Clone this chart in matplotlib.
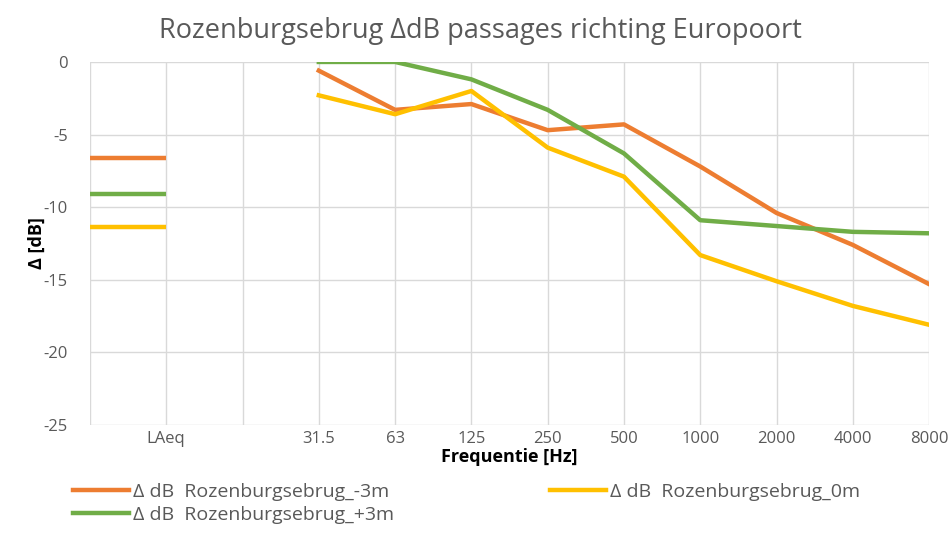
import numpy as np
import matplotlib
matplotlib.use('Agg')
import matplotlib.pyplot as plt

# categorieen op de x-as (eerste en derde plek zijn leeg)
categories = ['', 'LAeq', '', '31.5', '63', '125', '250', '500', '1000', '2000', '4000', '8000']
freqs = ['31.5', '63', '125', '250', '500', '1000', '2000', '4000', '8000']

# LAeq waarden (korte horizontale streep)
laeq_min3 = -6.6
laeq_0 = -11.4
laeq_plus3 = -9.1

# spectrum waarden per frequentieband
spec_min3 = [-0.6, -3.3, -2.9, -4.7, -4.3, -7.2, -10.4, -12.6, -15.3]
spec_0 = [-2.3, -3.6, -2.0, -5.9, -7.9, -13.3, -15.1, -16.8, -18.1]
spec_plus3 = [0.0, 0.0, -1.2, -3.3, -6.3, -10.9, -11.3, -11.7, -11.8]

labels = ['\u0394 dB  Rozenburgsebrug_-3m',
          '\u0394 dB  Rozenburgsebrug_0m',
          '\u0394 dB  Rozenburgsebrug_+3m']
colors = ['#ED7D31', '#FFC000', '#70AD47']

plt.rcParams['font.family'] = ['Open Sans', 'DejaVu Sans']
plt.rcParams['axes.unicode_minus'] = False

fig = plt.figure(figsize=(9.5, 5.53), dpi=100)
ax = fig.add_axes([0.0947, 0.2315, 0.8833, 0.6565])

x_laeq = [0, 1]
x_spec = [categories.index(f) for f in freqs]

series = [(laeq_min3, spec_min3), (laeq_0, spec_0), (laeq_plus3, spec_plus3)]
handles = []
for (laeq, spec), col, lab in zip(series, colors, labels):
    ax.plot(x_laeq, [laeq, laeq], color=col, lw=3.2, solid_capstyle='butt')
    h, = ax.plot(x_spec, spec, color=col, lw=3.2, label=lab)
    handles.append(h)

ax.set_xlim(0, len(categories) - 1)
ax.set_ylim(-25, 0)
ax.set_xticks(range(len(categories)))
ax.set_xticklabels(categories)
ax.set_yticks([0, -5, -10, -15, -20, -25])
ax.tick_params(length=0, labelsize=12, colors='#595959', pad=4)
ax.tick_params(axis='y', pad=16)
ax.grid(True, color='#D9D9D9', lw=1)
ax.set_axisbelow(True)
for s in ax.spines.values():
    s.set_visible(False)

ax.set_ylabel('\u0394 [dB]', fontsize=13, fontweight='bold', labelpad=-2)
ax.set_xlabel('Frequentie [Hz]', fontsize=13, fontweight='bold', labelpad=1)
ax.set_title('Rozenburgsebrug \u0394dB passages richting Europoort', fontsize=19.5,
             color='#595959', pad=17, x=0.465)

# volgorde zodat rij 1: -3m, 0m en rij 2: +3m
fig.legend([handles[0], handles[2], handles[1]],
           [labels[0], labels[2], labels[1]],
           ncol=2, frameon=False, loc='upper left', bbox_to_anchor=(0.058, 0.158),
           fontsize=14, handlelength=2.9, handletextpad=0.2, columnspacing=8.0,
           labelspacing=0.25, labelcolor='#595959')

plt.savefig('out.png', dpi=100)
